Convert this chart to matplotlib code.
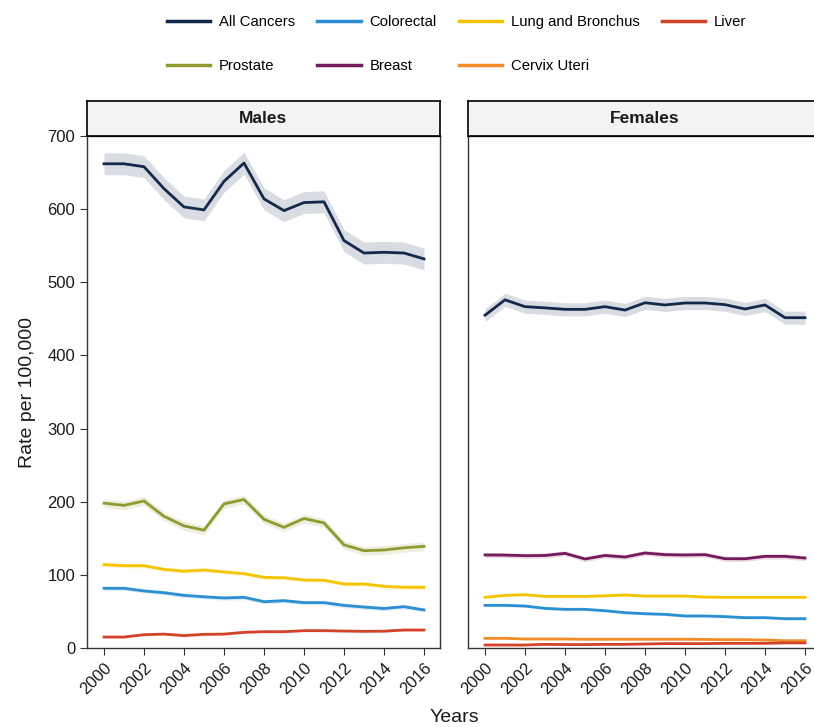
import numpy as np
import matplotlib.pyplot as plt
from matplotlib.lines import Line2D

plt.rcParams['font.family'] = ['Liberation Sans', 'DejaVu Sans']

years = np.arange(2000, 2017)

# males, rate per 100,000
m_all = [662, 662, 658, 628, 603, 599, 638, 663, 614, 598, 609, 610, 557, 540, 541, 540, 532]
m_prostate = [198, 195, 201, 180, 167, 161, 197, 203, 176, 165, 177, 171, 141, 133, 134, 137, 139]
m_lung = [114, 112.5, 112.5, 107.5, 105, 106.6, 104, 101.6, 96.6, 96, 93, 92.6, 87.5, 87.5, 84.3, 83, 83]
m_colorectal = [81.6, 81.6, 78, 75.6, 72, 70, 68.4, 69.3, 63.3, 64.7, 62, 62, 58.3, 56, 54, 56.5, 52]
m_liver = [15, 15, 18.2, 19, 17, 18.7, 19, 21.4, 22.3, 22.3, 23.7, 23.7, 23.2, 22.8, 23, 24.6, 24.6]

# females, rate per 100,000
f_all = [455, 476, 466.7, 465, 463, 463, 466.7, 462, 472, 469, 471.7, 471.7, 469.4, 463.5, 469, 451.6, 451.6]
f_breast = [127.2, 127, 126.2, 126.5, 129.4, 121.7, 126.5, 124.4, 129.9, 127.6, 127.2, 127.6, 122.1, 122, 125.3, 125.3, 123]
f_lung = [69.3, 72, 72.9, 70.6, 70.6, 70.6, 71.4, 72.5, 71, 71, 71, 69.7, 69.3, 69.3, 69.3, 69.3, 69.3]
f_colorectal = [58.3, 58.3, 57.4, 54.2, 52.9, 52.9, 51, 48.3, 46.9, 46, 43.8, 43.8, 42.9, 41.5, 41.5, 40.1, 40.1]
f_cervix = [13.2, 13.2, 12.3, 12.3, 12.3, 12, 12, 12, 12, 12, 12, 11.7, 11.4, 11.4, 11, 10, 10]
f_liver = [4.1, 4.1, 4.1, 5, 4.7, 4.7, 5, 5, 5.5, 6, 6, 6, 6.4, 6.4, 6.4, 7, 7]

# half width of the 95% interval for each series
ci_m = {'All Cancers': 15, 'Prostate': 6, 'Lung and Bronchus': 3, 'Colorectal': 3, 'Liver': 1.5}
ci_f = {'All Cancers': 9, 'Breast': 3.5, 'Lung and Bronchus': 2, 'Colorectal': 2, 'Cervix Uteri': 1.2, 'Liver': 1}

colors = {
    'All Cancers': '#13294b',
    'Colorectal': '#2b8fd1',
    'Lung and Bronchus': '#f5c400',
    'Liver': '#d2432a',
    'Prostate': '#8f9a30',
    'Breast': '#751a5c',
    'Cervix Uteri': '#f28c28',
}

males = {'All Cancers': m_all, 'Prostate': m_prostate, 'Lung and Bronchus': m_lung,
         'Colorectal': m_colorectal, 'Liver': m_liver}
females = {'All Cancers': f_all, 'Breast': f_breast, 'Lung and Bronchus': f_lung,
           'Colorectal': f_colorectal, 'Cervix Uteri': f_cervix, 'Liver': f_liver}

W, H = 814, 727
fig = plt.figure(figsize=(W / 100, H / 100), dpi=100)


def box(l, t, r, b):
    return [l / W, 1 - b / H, (r - l) / W, (b - t) / H]


def panel(ax, data, ci, title, strip_box):
    for name, vals in data.items():
        v = np.array(vals, dtype=float)
        ax.fill_between(years, v - ci[name], v + ci[name], color=colors[name], alpha=0.16, lw=0)
        ax.plot(years, v, color=colors[name], lw=2)
    ax.set_xlim(1999.15, 2016.8)
    ax.set_ylim(0, 700)
    ax.set_xticks(np.arange(2000, 2017, 2))
    ax.set_yticks(np.arange(0, 701, 100))
    ax.tick_params(length=5, color='#333333', labelsize=12, labelcolor='#1a1a1a')
    for lab in ax.get_xticklabels():
        lab.set_rotation(45)
        lab.set_ha('right')
        lab.set_va('top')
        lab.set_rotation_mode('anchor')
    for s in ax.spines.values():
        s.set_color('#333333')
        s.set_linewidth(1)
    # facet strip on top
    st = fig.add_axes(strip_box)
    st.set_facecolor('#f2f3f5')
    st.set_xticks([])
    st.set_yticks([])
    for s in st.spines.values():
        s.set_color('black')
        s.set_linewidth(1.2)
    st.text(0.5, 0.5, title, ha='center', va='center', fontsize=12.5, fontweight='bold',
            color='#1a1a1a', transform=st.transAxes)


axM = fig.add_axes(box(87, 136, 440, 648))
axF = fig.add_axes(box(468, 136, 821, 648))
panel(axM, males, ci_m, 'Males', box(87, 101, 440, 136))
panel(axF, females, ci_f, 'Females', box(468, 101, 821, 136))
axF.tick_params(axis='y', left=False, labelleft=False)

fig.text(28 / W, 1 - 392 / H, 'Rate per 100,000', rotation=90, ha='center', va='center',
         fontsize=14, color='#1a1a1a')
fig.text(454 / W, 1 - 718 / H, 'Years', ha='center', va='center', fontsize=14, color='#1a1a1a')

# legend filled column by column, so order the entries to read across rows
order = ['All Cancers', 'Prostate', 'Colorectal', 'Breast', 'Lung and Bronchus', 'Cervix Uteri', 'Liver']
handles = [Line2D([], [], color=colors[n], lw=2.5) for n in order]
fig.legend(handles, order, ncol=4, loc='upper left', bbox_to_anchor=(167 / W, 1 - 15 / H),
           frameon=False, fontsize=10.7, handlelength=2.9, handletextpad=0.6,
           columnspacing=1.5, labelspacing=2.0, borderpad=0, borderaxespad=0)

fig.savefig('out.png', dpi=100)
